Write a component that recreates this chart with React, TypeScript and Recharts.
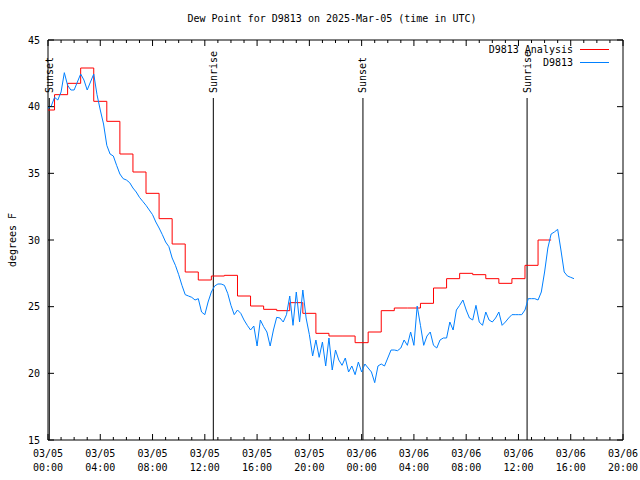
import React from "react";
import {
  LineChart,
  Line,
  XAxis,
  YAxis,
  ReferenceLine,
  ReferenceArea,
  Legend,
} from "recharts";

// dew point readings, one every 15 minutes from 03/05 00:00 (hours)
const STEP_HOURS = 0.25;
const DEW_POINT = [
  39.9, 40.05, 40.7, 40.5, 41.1, 42.55, 41.6, 41.25, 41.25, 41.85, 42.45, 42.0,
  41.25, 41.85, 42.45, 40.9, 39.75, 38.7, 37.1, 36.45, 36.3, 35.6, 34.95, 34.6,
  34.5, 34.3, 33.9, 33.6, 33.2, 32.9, 32.6, 32.25, 31.9, 31.35, 30.9, 30.4,
  29.85, 29.5, 28.65, 28.1, 27.4, 26.6, 25.9, 25.8, 25.7, 25.5, 25.6, 24.6,
  24.4, 25.35, 26.1, 26.55, 26.7, 26.7, 26.6, 26.0, 25.1, 24.4, 24.75, 24.5,
  24.0, 23.6, 23.25, 23.55, 22.05, 24.0, 23.5, 23.1, 22.05, 23.25, 24.2, 24.15,
  23.85, 24.4, 25.8, 23.6, 26.1, 23.85, 26.25, 24.15, 22.9, 21.3, 22.5, 21.2,
  22.35, 20.55, 22.65, 20.25, 21.75, 21.0, 20.6, 21.15, 20.1, 20.55, 19.9, 20.85,
  20.1, 20.7, 20.4, 20.1, 19.3, 20.55, 20.7, 20.55, 21.15, 21.75, 21.75, 21.7,
  21.9, 22.5, 22.1, 23.1, 22.1, 25.05, 23.6, 22.1, 22.8, 23.1, 22.1, 21.9,
  22.5, 22.65, 22.65, 23.85, 23.25, 24.75, 25.1, 25.5, 24.75, 24.15, 24.0, 25.1,
  23.85, 23.6, 24.6, 24.0, 23.85, 24.15, 24.6, 23.6, 23.85, 24.15, 24.4, 24.4,
  24.4, 24.4, 24.75, 25.6, 25.6, 25.6, 25.5, 26.1, 27.6, 29.4, 30.45, 30.6,
  30.8, 29.25, 27.6, 27.3, 27.2, 27.1,
];

// hourly analysis values, hour 0 .. 38
const ANALYSIS = [
  39.75, 40.9, 41.75, 42.9, 40.4, 38.9, 36.45, 35.1, 33.5, 31.6, 29.7, 27.6,
  27.0, 27.3, 27.35, 25.8, 25.05, 24.8, 24.7, 25.3, 24.5, 23.0, 22.8, 22.8,
  22.3, 23.1, 24.7, 24.9, 24.9, 25.25, 26.4, 27.1, 27.5, 27.4, 27.1, 26.75,
  27.1, 28.1, 30.0,
];

const EVENT_NAMES = ["Sunset", "Sunrise", "Sunset", "Sunrise"];
const EVENT_HOURS = [0.1, 12.65, 24.1, 36.66];

const TICK_DATES = ["03/05", "03/05", "03/05", "03/05", "03/05", "03/05", "03/06", "03/06", "03/06", "03/06", "03/06", "03/06"];
const TICK_TIMES = ["00:00", "04:00", "08:00", "12:00", "16:00", "20:00", "00:00", "04:00", "08:00", "12:00", "16:00", "20:00"];
const Y_TICKS = [15, 20, 25, 30, 35, 40, 45];

const SERIES_ORDER = ["D9813 Analysis", "D9813"];

const FONT = "'DejaVu Sans Mono', monospace";
const PLOT_W = 575;
const PLOT_H = 400;
const HOUR_TICKS = Array.from({ length: 45 }, (_, i) => i);

const dewData = DEW_POINT.map((v, i) => ({ t: i * STEP_HOURS, v }));
const analysisData = ANALYSIS.map((v, i) => ({ t: i, v }));
// let the last hourly step run out to its half hour
analysisData.push({ t: ANALYSIS.length - 0.5, v: ANALYSIS[ANALYSIS.length - 1] });

function XTick(props: any) {
  const { x, y, payload } = props;
  const major = payload.value % 4 === 0;
  const len = major ? 6 : 3;
  const idx = payload.value / 4;
  return (
    <g>
      <line x1={x} y1={y} x2={x} y2={y - len} stroke="#000" />
      <line x1={x} y1={y - PLOT_H} x2={x} y2={y - PLOT_H + len} stroke="#000" />
      {major && (
        <text x={x} y={y + 17} textAnchor="middle" fontFamily={FONT} fontSize={10} fill="#000">
          <tspan x={x}>{TICK_DATES[idx]}</tspan>
          <tspan x={x} dy={14}>{TICK_TIMES[idx]}</tspan>
        </text>
      )}
    </g>
  );
}

function YTick(props: any) {
  const { x, y, payload } = props;
  return (
    <g>
      <line x1={x} y1={y} x2={x + 6} y2={y} stroke="#000" />
      <line x1={x + PLOT_W} y1={y} x2={x + PLOT_W - 6} y2={y} stroke="#000" />
      <text x={x - 8} y={y} textAnchor="end" dominantBaseline="central" fontFamily={FONT} fontSize={10} fill="#000">
        {payload.value}
      </text>
    </g>
  );
}

function EventLabel(props: any) {
  const { viewBox, text } = props;
  const x = viewBox.x;
  const y = viewBox.y - 5;
  return (
    <text
      x={x}
      y={y}
      transform={`rotate(-90 ${x} ${y})`}
      textAnchor="start"
      dominantBaseline="central"
      fontFamily={FONT}
      fontSize={10}
      fill="#000"
    >
      {text}
    </text>
  );
}

function YLabel(props: any) {
  const { viewBox } = props;
  const x = viewBox.x + 12;
  const y = viewBox.y + viewBox.height / 2;
  return (
    <text x={x} y={y} transform={`rotate(-90 ${x} ${y})`} textAnchor="middle" dominantBaseline="central" fontFamily={FONT} fontSize={10} fill="#000">
      degrees F
    </text>
  );
}

function renderLegend(props: any) {
  const items = [...(props.payload || [])].sort(
    (a: any, b: any) => SERIES_ORDER.indexOf(a.value) - SERIES_ORDER.indexOf(b.value)
  );
  return (
    <div style={{ fontFamily: FONT, fontSize: 10, lineHeight: "13px" }}>
      {items.map((entry: any) => (
        <div key={entry.value} style={{ display: "flex", alignItems: "center", height: 13 }}>
          <span style={{ flex: 1, textAlign: "right", whiteSpace: "pre" }}>{entry.value}</span>
          <span style={{ width: 29, height: 1, marginLeft: 7, marginRight: 11, background: entry.color }} />
        </div>
      ))}
    </div>
  );
}

export default function App() {
  return (
    <div style={{ position: "absolute", left: 0, top: 0, width: 640, height: 480, background: "#fff" }}>
      <div
        style={{
          position: "absolute",
          left: 0,
          top: 12,
          width: 664,
          textAlign: "center",
          fontFamily: FONT,
          fontSize: 10,
          lineHeight: "14px",
        }}
      >
        Dew Point for D9813 on 2025-Mar-05 (time in UTC)
      </div>
      <LineChart width={640} height={480} margin={{ top: 40, right: 17, bottom: 0, left: 0 }}>
        <XAxis
          type="number"
          dataKey="t"
          domain={[0, 44]}
          ticks={HOUR_TICKS}
          interval={0}
          height={40}
          axisLine={false}
          tickLine={false}
          tickSize={0}
          tickMargin={0}
          tick={<XTick />}
        />
        <YAxis
          type="number"
          domain={[15, 45]}
          ticks={Y_TICKS}
          width={48}
          axisLine={false}
          tickLine={false}
          tickSize={0}
          tickMargin={0}
          tick={<YTick />}
          label={<YLabel />}
        />
        <ReferenceArea x1={0} x2={44} y1={15} y2={45} fill="none" stroke="#000" strokeWidth={1} ifOverflow="visible" />
        {EVENT_HOURS.map((h, i) => (
          <ReferenceLine
            key={i}
            segment={[{ x: h, y: 40.65 }, { x: h, y: 15 }]}
            stroke="#000"
            strokeWidth={1}
            label={<EventLabel text={EVENT_NAMES[i]} />}
          />
        ))}
        <Line
          data={analysisData}
          dataKey="v"
          name="D9813 Analysis"
          type="step"
          stroke="#ff0000"
          strokeWidth={1}
          dot={false}
          isAnimationActive={false}
        />
        <Line
          data={dewData}
          dataKey="v"
          name="D9813"
          type="linear"
          stroke="#0080ff"
          strokeWidth={1}
          dot={false}
          isAnimationActive={false}
        />
        <Legend
          layout="vertical"
          align="center"
          verticalAlign="middle"
          content={renderLegend}
          wrapperStyle={{ position: "absolute", top: 43, left: 470, width: 150, height: 26 }}
        />
      </LineChart>
    </div>
  );
}
